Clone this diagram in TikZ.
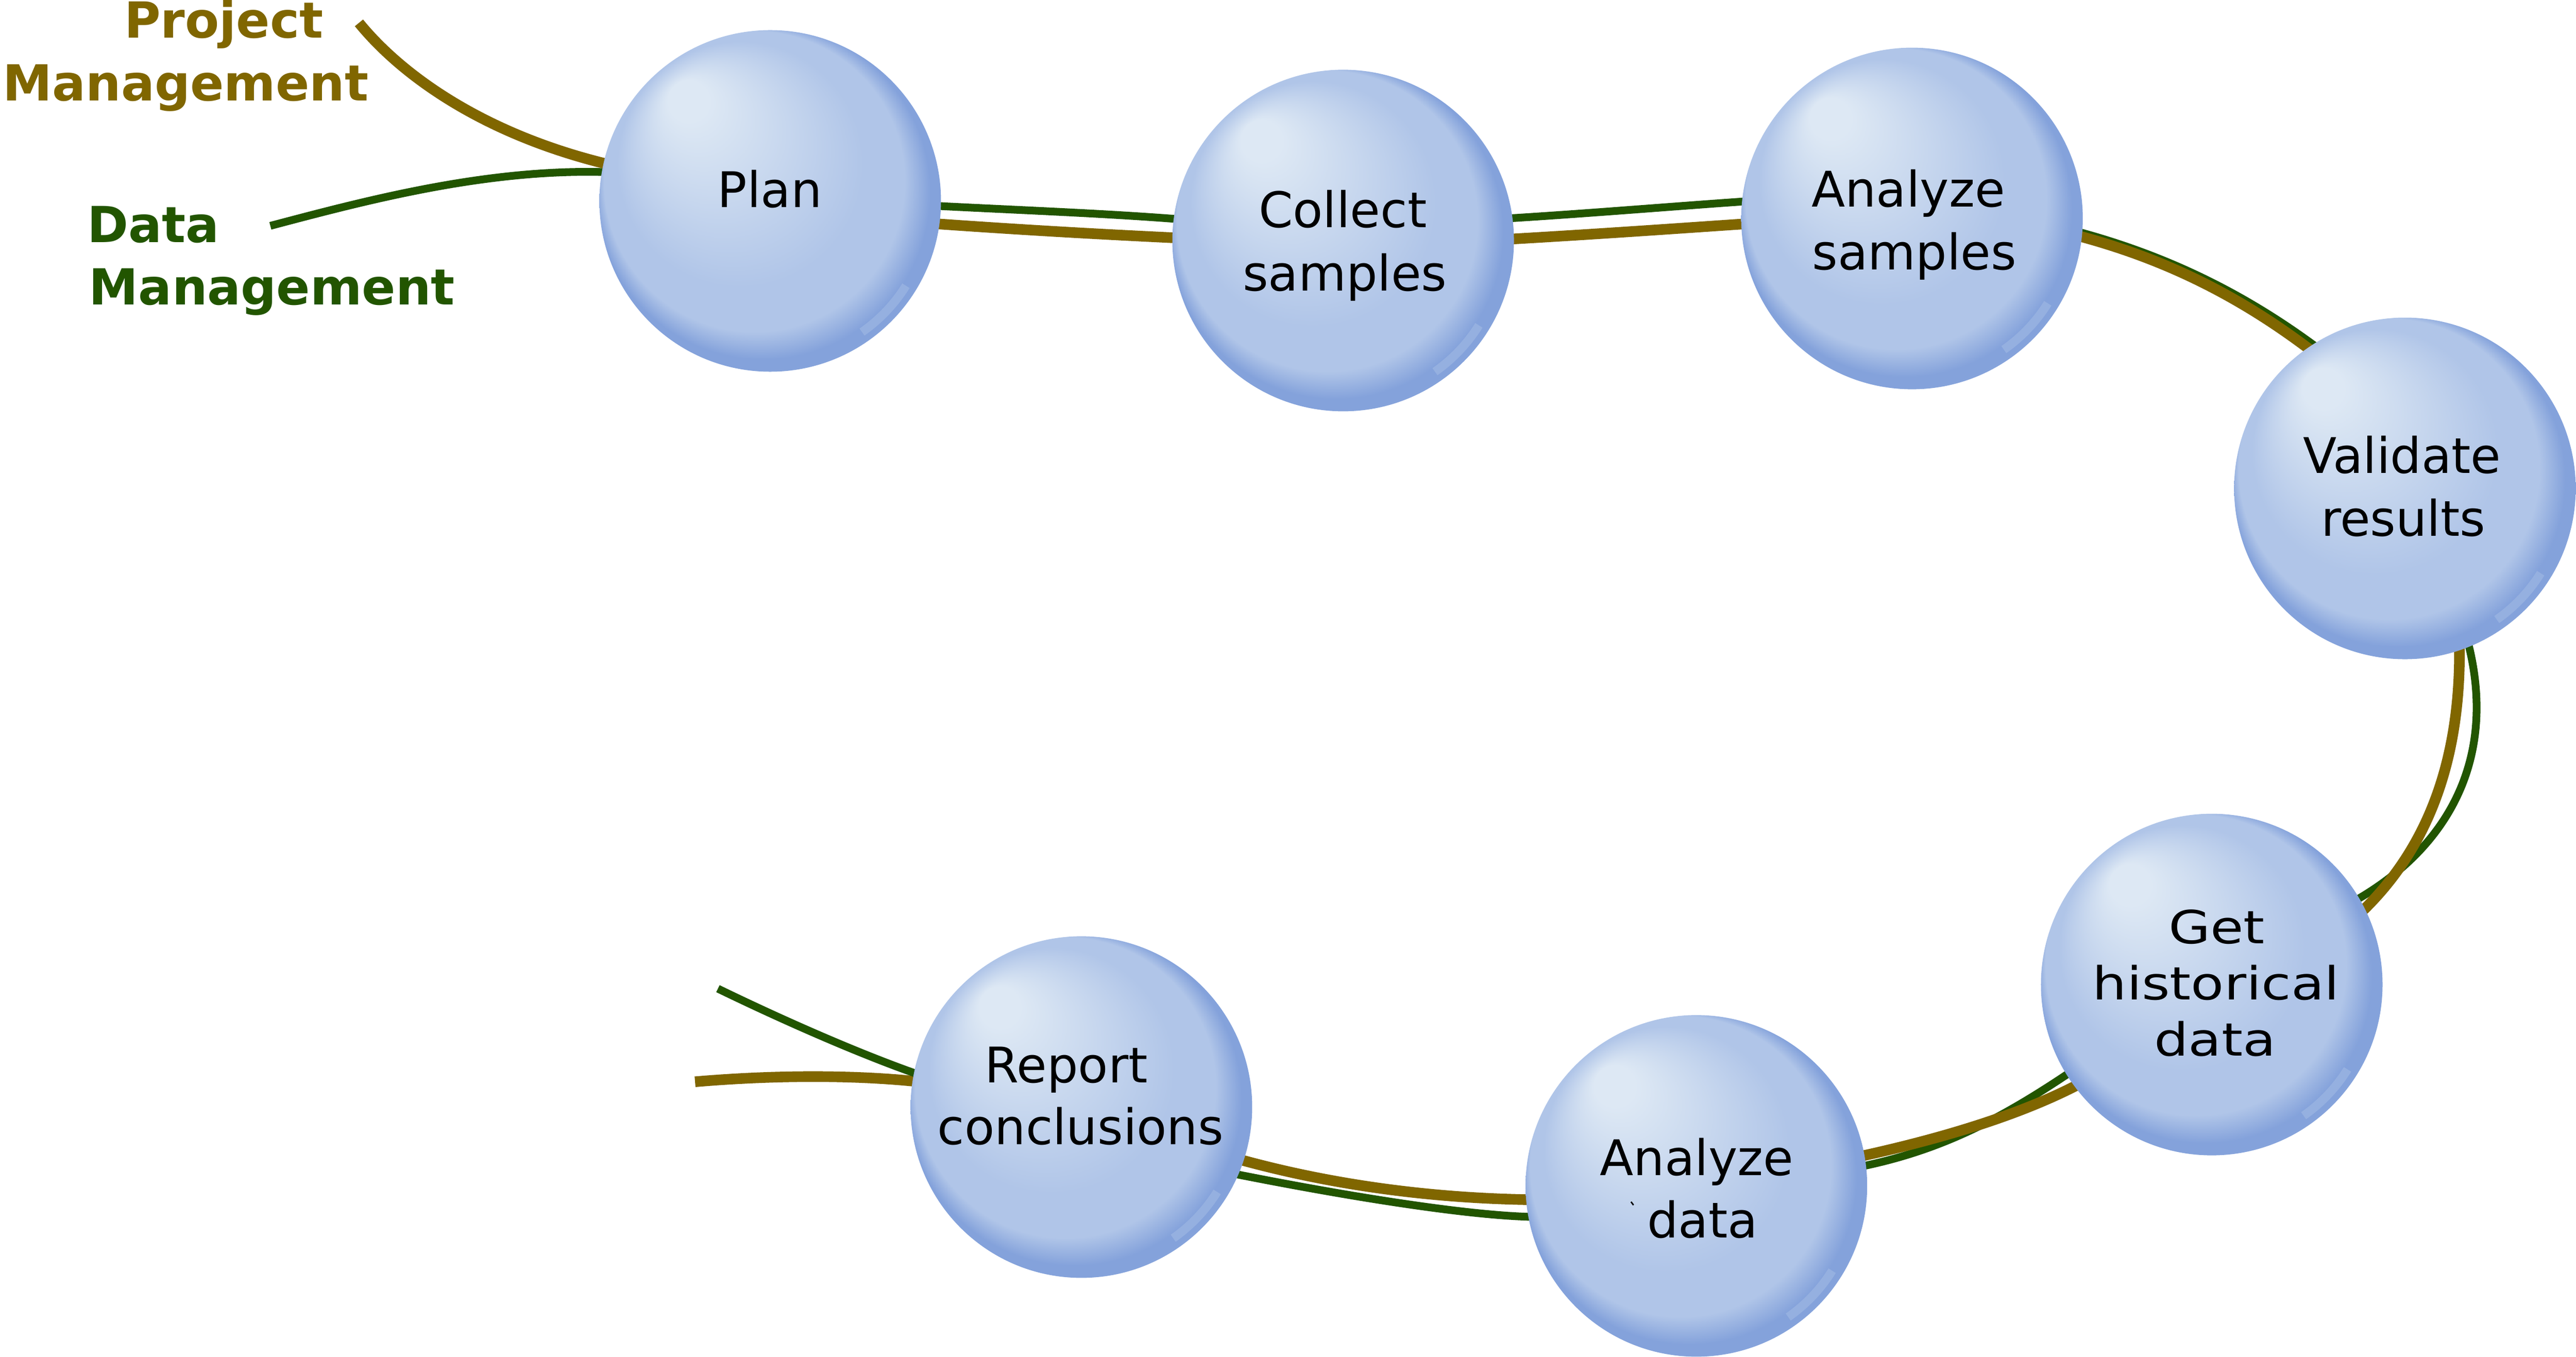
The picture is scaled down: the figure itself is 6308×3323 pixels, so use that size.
\documentclass[tikz,border=0pt]{standalone}
\usepackage{fontspec}
\usepackage{graphicx}
\setmainfont{DejaVu Sans}
\definecolor{pmbrown}{HTML}{806600}
\definecolor{dmgreen}{HTML}{225500}
\definecolor{sphl}{HTML}{DDE8F4}
\definecolor{spbase}{HTML}{B0C5E8}
\definecolor{sprim}{HTML}{84A2DB}
\pgfdeclareradialshading{sphball}{\pgfpoint{-13.5bp}{16.5bp}}{color(0bp)=(sphl); color(3bp)=(sphl); color(9bp)=(sphl!60!spbase); color(18bp)=(spbase); color(22bp)=(spbase); color(24.5bp)=(sprim); color(25.4bp)=(sprim); color(26.6bp)=(sprim!80!spbase)}
\pgfdeclarelayer{bg}
\pgfsetlayers{bg,main}
\tikzset{
  sphere/.style={circle, minimum size=8.36cm, inner sep=0pt, shade, shading=sphball,
    path picture={
      \draw[sphl, opacity=0.2, line width=6pt]
        ([shift={(32:392)}]path picture bounding box.center) arc[start angle=32, end angle=55, radius=392];
    }},
  pmline/.style={pmbrown, line width=7.4pt},
  dmline/.style={dmgreen, line width=5.4pt},
  txt/.style={inner sep=0pt, anchor=base, font=\fontsize{34.2}{41}\selectfont},
  pmlabel/.style={txt, text=pmbrown, font=\fontsize{34.6}{41}\selectfont\bfseries},
  dmlabel/.style={txt, text=dmgreen, font=\fontsize{34.6}{41}\selectfont\bfseries},
}
\begin{document}
\begin{tikzpicture}[x=0.01cm, y=-0.01cm]
\useasboundingbox (0,0) rectangle (6308,3323);

% spheres
\node[sphere] (plan)    at (1886,492)  {};
\node[sphere] (collect) at (3289,589)  {};
\node[sphere] (anas)    at (4682,535)  {};
\node[sphere] (valid)   at (5889,1196) {};
\node[sphere] (hist)    at (5416,2411) {};
\node[sphere] (anad)    at (4154,2904) {};
\node[sphere] (report)  at (2648,2711) {};

% free ends
\coordinate (pmstart) at (879,56);
\coordinate (dmstart) at (662,553);
\coordinate (rgstart) at (1758,2421);
\coordinate (rbstart) at (1702,2649);

\begin{pgfonlayer}{bg}
% data management (green)
\draw[dmline] (dmstart) .. controls (900,490) and (1200,410) .. ([shift={(-386,-70)}]plan.center);
\draw[dmline] ([shift={(364,10)}]plan.center) .. controls (2500,515) and (2700,522) .. ([shift={(-399,-52)}]collect.center);
\draw[dmline] ([shift={(401,-54)}]collect.center) .. controls (3900,522) and (4100,505) .. ([shift={(-392,-43)}]anas.center);
\draw[dmline] ([shift={(378,25)}]anas.center) .. controls (5300,621) and (5508,721) .. ([shift={(-177,-316)}]valid.center);
\draw[dmline] ([shift={(151,364)}]valid.center) .. controls (6120,1850) and (6000,2080) .. ([shift={(334,-196)}]hist.center);
\draw[dmline] ([shift={(-341,211)}]hist.center) .. controls (4900,2740) and (4750,2820) .. ([shift={(386,-44)}]anad.center);
\draw[dmline] ([shift={(-394,76)}]anad.center) .. controls (3600,2978) and (3300,2930) .. ([shift={(362,161)}]report.center);
% project management (brown)
\draw[pmline] (pmstart) .. controls (980,180) and (1180,330) .. ([shift={(-386,-87)}]plan.center);
\draw[pmline] ([shift={(364,53)}]plan.center) .. controls (2500,563) and (2700,574) .. ([shift={(-399,-6)}]collect.center);
\draw[pmline] ([shift={(401,-3)}]collect.center) .. controls (3900,574) and (4100,560) .. ([shift={(-392,12)}]anas.center);
\draw[pmline] ([shift={(378,35)}]anas.center) .. controls (5300,630) and (5500,730) .. ([shift={(-189,-306)}]valid.center);
\draw[pmline] ([shift={(133,364)}]valid.center) .. controls (6030,1850) and (5950,2080) .. ([shift={(354,-166)}]hist.center);
\draw[pmline] ([shift={(-316,239)}]hist.center) .. controls (4950,2730) and (4750,2790) .. ([shift={(386,-69)}]anad.center);
\draw[pmline] ([shift={(-394,34)}]anad.center) .. controls (3500,2935) and (3250,2900) .. ([shift={(372,124)}]report.center);
\draw[pmline] (rbstart) .. controls (1900,2632) and (2100,2632) .. ([shift={(-388,-61)}]report.center);
\draw[dmline] (rgstart) .. controls (1900,2490) and (2100,2580) .. ([shift={(-388,-76)}]report.center);
\end{pgfonlayer}

% texts in spheres
\node[txt] (planT) at (1885,508) {Plan};
\node[txt] (collectT1) at (3288,557) {Collect};
\node[txt] (collectT2) at (3293,712) {samples};
\node[txt] (anasT1) at (4673,507) {Analyze};
\node[txt] (anasT2) at (4688,660) {samples};
\node[txt] (validT1) at (5882,1159) {Validate};
\node[txt] (validT2) at (5885,1313) {results};
\node[txt] (histT1) at (5428,2311) {\scalebox{1.1}[0.93]{Get}};
\node[txt] (histT2) at (5426,2448) {\scalebox{1.1}[0.93]{historical}};
\node[txt] (histT3) at (5424,2586) {\scalebox{1.1}[0.93]{data}};
\node[txt] (anadT1) at (4155,2878) {Analyze};
\node[txt] (anadT2) at (4169,3031) {data};
\draw[line width=1pt] (3994,2943) -- (4000,2951);
\node[txt] (reportT1) at (2611,2651) {Report};
\node[txt] (reportT2) at (2646,2802) {conclusions};

% legend labels
\node[pmlabel] (pmT1) at (548,93) {Project};
\node[pmlabel] (pmT2) at (455,246) {Management};
\node[dmlabel] (dmT1) at (375,593) {Data};
\node[dmlabel] (dmT2) at (666,746) {Management};
\end{tikzpicture}
\end{document}
